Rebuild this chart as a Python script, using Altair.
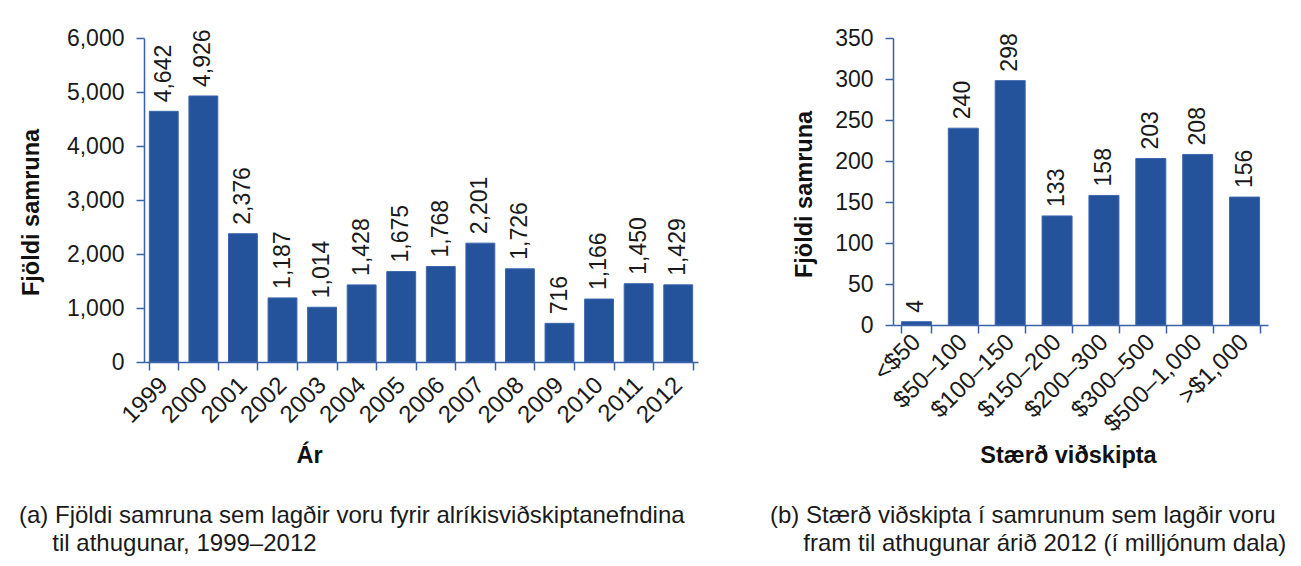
import altair as alt
import pandas as pd

# (a) mergers notified per year
years = ["1999", "2000", "2001", "2002", "2003", "2004", "2005",
         "2006", "2007", "2008", "2009", "2010", "2011", "2012"]
mergers = [4642, 4926, 2376, 1187, 1014, 1428, 1675,
           1768, 2201, 1726, 716, 1166, 1450, 1429]

# (b) deal size in 2012, millions of dollars
sizes = ["<$50", "$50–100", "$100–150", "$150–200",
         "$200–300", "$300–500", "$500–1,000", ">$1,000"]
deals = [4, 240, 298, 133, 158, 203, 208, 156]

# zero-width char keeps the indent from being trimmed away
INDENT = "\u200b" + "\u00a0" * 5
caption_a = ["(a) Fjöldi samruna sem lagðir voru fyrir alríkisviðskiptanefndina",
             INDENT + "til athugunar, 1999–2012"]
caption_b = ["(b) Stærð viðskipta í samrunum sem lagðir voru",
             INDENT + "fram til athugunar árið 2012 (í milljónum dala)"]

FONT = "Liberation Sans"
BAR = "#24539c"
AXIS = "#3a62a8"
INK = "#1a1a1a"


def panel(df, cat, order, ymax, ystep, w, h, x_title, x_title_x, x_title_y,
          y_title_x, y_title_y, pad, label_pad, caption, cap_dx, cap_offset):
    x = alt.X(f"{cat}:N", sort=order, title=x_title,
              scale=alt.Scale(paddingInner=pad, paddingOuter=pad / 2),
              axis=alt.Axis(labelAngle=315, labelAlign="right", labelBaseline="middle",
                            labelPadding=label_pad, labelFontSize=24, tickBand="extent",
                            titleX=x_title_x, titleY=x_title_y,
                            titleAlign="center", titleBaseline="alphabetic"))
    y = alt.Y("n:Q", title="Fjöldi samruna",
              scale=alt.Scale(domain=[0, ymax], nice=False),
              axis=alt.Axis(values=list(range(0, ymax + 1, ystep)), format=",d",
                            labelPadding=12, labelFontSize=23,
                            titleX=y_title_x, titleY=y_title_y,
                            titleAngle=270, titleAlign="center",
                            titleBaseline="alphabetic"))
    base = alt.Chart(df).encode(x=x, y=y)
    bars = base.mark_bar(color=BAR, stroke="#3d66ad", strokeWidth=1)
    labels = base.mark_text(angle=270, align="left", baseline="middle", dx=9,
                            font=FONT, fontSize=23, color=INK).encode(
        text=alt.Text("n:Q", format=",d"))
    return alt.layer(bars, labels).properties(
        width=w, height=h,
        title=alt.TitleParams(caption, orient="bottom", anchor="start", frame="bounds",
                              dx=cap_dx, offset=cap_offset, font=FONT, fontSize=24,
                              fontWeight="normal", color=INK, lineHeight=28))


df_a = pd.DataFrame({"year": years, "n": mergers})
df_b = pd.DataFrame({"size": sizes, "n": deals})

left = panel(df_a, "year", years, 6000, 1000, 554, 324, "Ár", 165, 100,
             -106, 174, 0.27, 11, caption_a, 0, 37)
right = panel(df_b, "size", sizes, 350, 50, 375, 287, "Stærð viðskipta", 175, 137,
              -82, 156, 0.36, 5, caption_b, -22, 37)

chart = alt.concat(left, right, columns=2, align="each", spacing=72).properties(
    padding={"left": 11, "top": 19, "right": 0, "bottom": 0}
).configure_view(stroke=None).configure_axis(
    grid=False, domainColor=AXIS, tickColor=AXIS, domainWidth=1.5, tickWidth=1.5,
    tickSize=8, labelFont=FONT, labelColor=INK,
    titleFont=FONT, titleFontSize=23.5, titleFontWeight="bold", titleColor="#111"
)

chart.save("out.html", embed_options={"renderer": "svg", "actions": False})
